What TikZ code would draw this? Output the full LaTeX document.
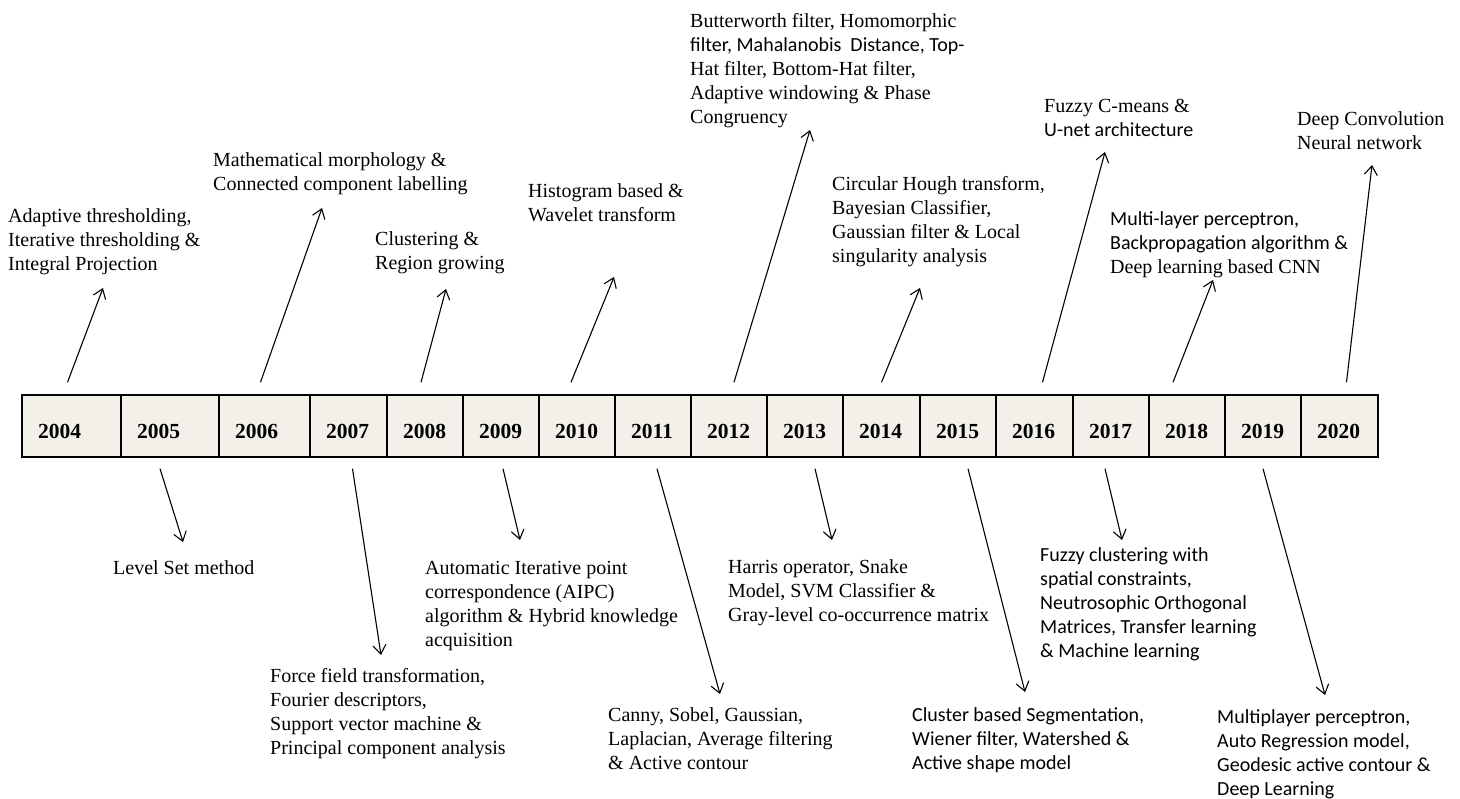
\documentclass[tikz,border=0pt]{standalone}
\usepackage{fontspec}
\setmainfont{Liberation Serif}
\newfontfamily\calib{Carlito}
\usetikzlibrary{arrows.meta}
\definecolor{cellbg}{RGB}{243,240,233}
\tikzset{
  yearcell/.style={draw, line width=1.4pt, fill=cellbg, minimum height=62pt, inner ysep=0pt, inner xsep=16pt, text height=25pt, text depth=0pt, align=left, font=\fontsize{21.5}{25}\selectfont\bfseries},
  txt/.style={anchor=north west, inner sep=0pt, align=left, font=\fontsize{20}{24}\selectfont},
  arr/.style={-{Straight Barb[length=9pt,width=13pt]}, line width=1.1pt},
}
\begin{document}
\begin{tikzpicture}[x=1pt,y=-1pt]
    \useasboundingbox (0,0) rectangle (1460,799);
    % the year bar
    \foreach \yr/\a/\b in {2004/22/121, 2005/121/219, 2006/219/310, 2007/310/387, 2008/387/463, 2009/463/539, 2010/539/615, 2011/615/691, 2012/691/767, 2013/767/843, 2014/843/920, 2015/920/996, 2016/996/1073, 2017/1073/1149, 2018/1149/1225, 2019/1225/1301, 2020/1301/1378}{
        \pgfmathsetmacro\w{\b-\a-32}
        \node[yearcell, text width=\w pt] (c\yr) at ({(\a+\b)/2},426) {\yr};
    }
    % methods above the bar
    \node[txt] (t2004) at (8,208) {Adaptive thresholding,\\Iterative thresholding \&\\Integral Projection};
    \node[txt] (t2006) at (213,152) {Mathematical morphology \&\\Connected component labelling};
    \node[txt] (t2008) at (375,231) {Clustering \&\\Region growing};
    \node[txt] (t2010) at (528,183) {Histogram based \&\\Wavelet transform};
    \node[txt] (t2012) at (690,13) {Butterworth filter, Homomorphic\\\calib filter, Mahalanobis~ Distance, Top-\\Hat filter, Bottom-Hat filter,\\Adaptive windowing \& Phase\\Congruency};
    \node[txt] (t2014) at (832,176) {Circular Hough transform,\\Bayesian Classifier,\\Gaussian filter \& Local\\singularity analysis};
    \node[txt] (t2016) at (1044,99) {Fuzzy C-means \&\\\calib U-net architecture};
    \node[txt] (t2018) at (1110,211) {\calib Multi-layer perceptron,\\\calib Backpropagation algorithm \&\\Deep learning based CNN};
    \node[txt] (t2020) at (1297,111) {Deep Convolution\\Neural network};
    % methods below the bar
    \node[txt] (t2005) at (113,560) {Level Set method};
    \node[txt] (t2007) at (270,668) {Force field transformation,\\Fourier descriptors,\\Support vector machine \&\\Principal component analysis};
    \node[txt] (t2009) at (425,561) {Automatic Iterative point\\correspondence (AIPC)\\algorithm \& Hybrid knowledge\\acquisition};
    \node[txt] (t2011) at (608,707) {Canny, Sobel, Gaussian,\\Laplacian, Average filtering\\\& Active contour};
    \node[txt] (t2013) at (728,559) {Harris operator, Snake\\Model, SVM Classifier \&\\Gray-level co-occurrence matrix};
    \node[txt, font=\fontsize{20}{24}\calib] (t2015) at (912,707) {Cluster based Segmentation,\\Wiener filter, Watershed \&\\Active shape model};
    \node[txt, font=\fontsize{20}{24}\calib] (t2017) at (1040,547) {Fuzzy clustering with\\spatial constraints,\\Neutrosophic Orthogonal\\Matrices, Transfer learning\\\& Machine learning};
    \node[txt, font=\fontsize{20}{24}\calib] (t2019) at (1217,709) {Multiplayer perceptron,\\Auto Regression model,\\Geodesic active contour \&\\Deep Learning};
    % arrows
    \foreach \yr/\dx/\hx/\hy in {2004/-4/103/288, 2006/-4/322/208, 2008/-4/446/289, 2010/-6/614/277, 2012/5/810/130, 2014/0/920/288, 2016/8/1105/152, 2018/-14/1213/280, 2020/7/1372/165}{
        \coordinate (h\yr) at (\hx,\hy);
        \draw[arr] ([xshift=\dx pt,yshift=12pt]c\yr.north) -- (h\yr);
    }
    \foreach \yr/\dx/\hx/\hy in {2005/-10/183/542, 2007/4/381/655, 2009/2/520/540, 2011/4/720/694, 2013/10/832/540, 2015/10/1025/692, 2017/-6/1122/540, 2019/0/1325/695}{
        \coordinate (h\yr) at (\hx,\hy);
        \draw[arr] ([xshift=\dx pt,yshift=-11pt]c\yr.south) -- (h\yr);
    }
\end{tikzpicture}
\end{document}
